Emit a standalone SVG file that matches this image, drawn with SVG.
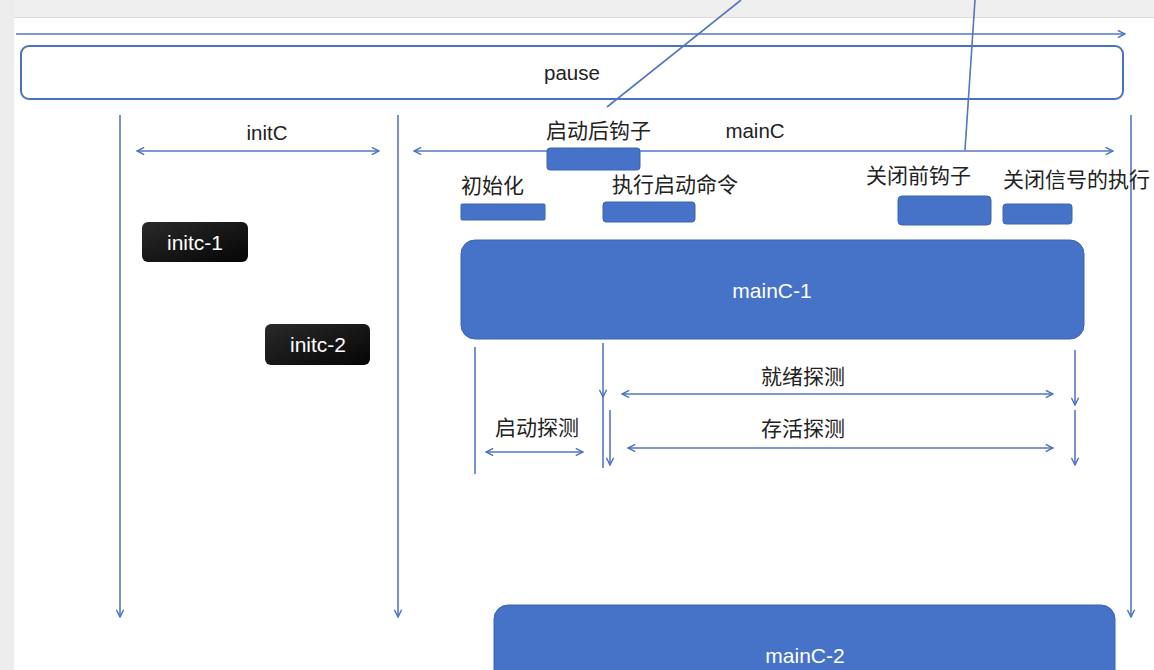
<svg xmlns="http://www.w3.org/2000/svg" width="1154" height="670" viewBox="0 0 1154 670">
<defs>
<marker id="ah" viewBox="0 0 10 10" refX="9" refY="5" markerWidth="9" markerHeight="9" markerUnits="userSpaceOnUse" orient="auto-start-reverse">
<path d="M1,1 L9,5 L1,9" fill="none" stroke="#4a72c0" stroke-width="1.6"/>
</marker>
<linearGradient id="blk" x1="0" y1="0" x2="1" y2="1">
<stop offset="0" stop-color="#2a2a2a"/>
<stop offset="1" stop-color="#050505"/>
</linearGradient>
<style>
.ln{stroke:#5577c0;stroke-width:1.6;fill:none}
.t{font-family:"Liberation Sans","Noto Sans CJK SC",sans-serif;font-size:20.5px;fill:#222;text-anchor:middle}
.tw{font-family:"Liberation Sans","Noto Sans CJK SC",sans-serif;font-size:21px;fill:#fff;text-anchor:middle}
.cn{font-family:"Noto Sans CJK SC","Liberation Sans",sans-serif;font-size:21px;fill:#222}
.bb{fill:#4673c8;stroke:#3c64b0;stroke-width:1}
</style>
</defs>
<rect x="0" y="0" width="1154" height="670" fill="#ffffff"/>
<rect x="0" y="0" width="1154" height="17" fill="#efefef"/>
<rect x="0" y="0" width="14" height="670" fill="#ededed"/>
<line x1="14" y1="17.5" x2="1154" y2="17.5" stroke="#dcdcdc" stroke-width="1"/>

<g id="pause">
<rect x="21" y="46" width="1102" height="53" rx="8" fill="#ffffff" stroke="#4a72c0" stroke-width="2"/>
<text class="t" x="572" y="80">pause</text>
</g>

<g id="connectors">
<line class="ln" x1="16" y1="34" x2="1125" y2="34" marker-end="url(#ah)"/>
<line class="ln" x1="741" y1="0" x2="607" y2="107"/>
<line class="ln" x1="975" y1="0" x2="965" y2="150"/>
<line class="ln" x1="120" y1="115" x2="120" y2="617" marker-end="url(#ah)"/>
<line class="ln" x1="398" y1="115" x2="398" y2="617" marker-end="url(#ah)"/>
<line class="ln" x1="1131" y1="115" x2="1131" y2="617" marker-end="url(#ah)"/>
<line class="ln" x1="137" y1="151" x2="379" y2="151" marker-start="url(#ah)" marker-end="url(#ah)"/>
<line class="ln" x1="414" y1="151" x2="1113" y2="151" marker-start="url(#ah)" marker-end="url(#ah)"/>
<line class="ln" x1="475" y1="347" x2="475" y2="474"/>
<line class="ln" x1="603" y1="343" x2="603" y2="397" marker-end="url(#ah)"/>
<line class="ln" x1="603" y1="397" x2="603" y2="468"/>
<line class="ln" x1="610" y1="410" x2="610" y2="465" marker-end="url(#ah)"/>
<line class="ln" x1="1075" y1="350" x2="1075" y2="405" marker-end="url(#ah)"/>
<line class="ln" x1="1075" y1="410" x2="1075" y2="465" marker-end="url(#ah)"/>
<line class="ln" x1="622" y1="394" x2="1053" y2="394" marker-start="url(#ah)" marker-end="url(#ah)"/>
<line class="ln" x1="628" y1="448" x2="1053" y2="448" marker-start="url(#ah)" marker-end="url(#ah)"/>
<line class="ln" x1="486" y1="452" x2="583" y2="452" marker-start="url(#ah)" marker-end="url(#ah)"/>
</g>

<g id="labels">
<text class="t" x="267" y="140">initC</text>
<text class="t" x="755" y="138">mainC</text>
<text class="cn" x="546" y="138">启动后钩子</text>
<text class="cn" x="461" y="193">初始化</text>
<text class="cn" x="612" y="192">执行启动命令</text>
<text class="cn" x="866" y="183">关闭前钩子</text>
<text class="cn" x="1003" y="187">关闭信号的执行</text>
<text class="cn" x="761" y="384">就绪探测</text>
<text class="cn" x="761" y="436">存活探测</text>
<text class="cn" x="495" y="435">启动探测</text>
</g>

<g id="hook-post"><rect class="bb" x="547" y="148" width="93" height="22" rx="3"/></g>
<g id="init-bar"><rect class="bb" x="461" y="204" width="84" height="16" rx="1"/></g>
<g id="exec-bar"><rect class="bb" x="603" y="202" width="92" height="20" rx="3"/></g>
<g id="hook-pre"><rect class="bb" x="898" y="196" width="93" height="29" rx="4"/></g>
<g id="signal-bar"><rect class="bb" x="1003" y="204" width="69" height="20" rx="3"/></g>

<g id="mainC-1">
<rect x="461" y="240" width="623" height="99" rx="14" fill="#4673c8" stroke="#3c64b0" stroke-width="1"/>
<text class="tw" x="772" y="298">mainC-1</text>
</g>

<g id="initc-1">
<rect x="142" y="222" width="106" height="40" rx="6" fill="url(#blk)"/>
<text class="tw" x="195" y="250">initc-1</text>
</g>
<g id="initc-2">
<rect x="265" y="324" width="105" height="41" rx="6" fill="url(#blk)"/>
<text class="tw" x="318" y="352">initc-2</text>
</g>

<g id="mainC-2">
<rect x="494" y="605" width="621" height="90" rx="14" fill="#4673c8" stroke="#3c64b0" stroke-width="1"/>
<text class="tw" x="805" y="663">mainC-2</text>
</g>
</svg>
